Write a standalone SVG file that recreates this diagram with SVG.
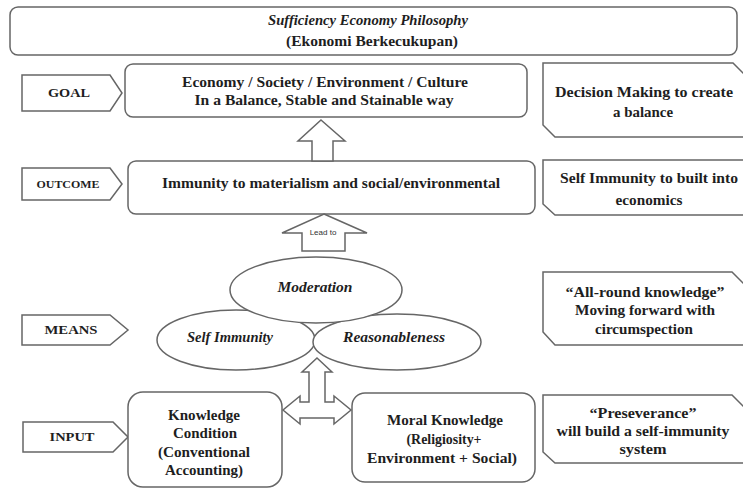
<svg xmlns="http://www.w3.org/2000/svg" width="743" height="488" viewBox="0 0 743 488">
<style>
.s{fill:#fff;stroke:#666;stroke-width:1.5}
.t{font-family:'Liberation Serif','DejaVu Serif','Times New Roman',serif;font-weight:bold;font-size:15px;fill:#1e1e1e;text-anchor:middle}
.i{font-style:italic}
.l{font-size:12.5px}
.m{font-size:11px}
.h{font-size:14.5px}
</style>
<rect width="743" height="488" fill="#fff"/>
<g id="title">
<rect class="s" x="10" y="7" width="727" height="48" rx="8"/>
<text class="t i h" x="368" y="25" textLength="200" lengthAdjust="spacingAndGlyphs">Sufficiency Economy Philosophy</text>
<text class="t h" x="372" y="46" textLength="172" lengthAdjust="spacingAndGlyphs">(Ekonomi  Berkecukupan)</text>
</g>
<g id="label-goal">
<path class="s" d="M22,75 H110 L122,93 L110,111 H22 Z"/>
<text class="t l" x="69" y="97" textLength="42" lengthAdjust="spacingAndGlyphs">GOAL</text>
</g>
<g id="label-outcome">
<path class="s" d="M22,168 H110 L122,184 L110,200 H22 Z"/>
<text class="t m" x="68" y="188" textLength="63" lengthAdjust="spacingAndGlyphs">OUTCOME</text>
</g>
<g id="label-means">
<path class="s" d="M22,315 H110 L128,330 L110,345 H22 Z"/>
<text class="t l" x="71" y="334" textLength="53" lengthAdjust="spacingAndGlyphs">MEANS</text>
</g>
<g id="label-input">
<path class="s" d="M23,422 H113 L128,437 L113,452 H23 Z"/>
<text class="t l" x="72" y="441" textLength="45" lengthAdjust="spacingAndGlyphs">INPUT</text>
</g>
<g id="goal">
<rect class="s" x="125" y="64" width="402" height="53" rx="8"/>
<text class="t" x="325" y="87" textLength="286" lengthAdjust="spacingAndGlyphs">Economy  / Society / Environment  / Culture</text>
<text class="t" x="324" y="105" textLength="259" lengthAdjust="spacingAndGlyphs">In a Balance, Stable and Stainable way</text>
</g>
<g id="outcome">
<rect class="s" x="128" y="161" width="407" height="53" rx="8"/>
<text class="t" x="331" y="188" textLength="338" lengthAdjust="spacingAndGlyphs">Immunity  to materialism  and social/environmental</text>
</g>
<g id="connectors">
<path class="s" d="M321,120 L345,141 H333 V161 H312 V141 H298 Z"/>
<path class="s" d="M324,214 L367,233 H345 V251 H302 V233 H282 Z"/>
<text x="323" y="235" font-family="Liberation Sans, Arial, sans-serif" font-size="8" fill="#333" text-anchor="middle">Lead to</text>
<path class="s" d="M317,358 L332,372 H325 V402 H334 V396 L351,410 L334,424 V418 H300 V424 L283,410 L300,396 V402 H309 V372 H302 Z"/>
</g>
<g id="self-immunity">
<ellipse class="s" cx="236" cy="340" rx="79" ry="30"/>
<text class="t i" x="230" y="342" textLength="86" lengthAdjust="spacingAndGlyphs">Self Immunity</text>
</g>
<g id="reasonableness">
<ellipse class="s" cx="397" cy="342" rx="84" ry="28"/>
<text class="t i" x="394" y="342" textLength="102" lengthAdjust="spacingAndGlyphs">Reasonableness</text>
</g>
<g id="moderation">
<ellipse class="s" cx="316" cy="290" rx="86" ry="33"/>
<text class="t i" x="315" y="292" textLength="75" lengthAdjust="spacingAndGlyphs">Moderation</text>
</g>
<g id="knowledge">
<rect class="s" x="128" y="392" width="154" height="95" rx="15"/>
<text class="t" x="204" y="420" textLength="72" lengthAdjust="spacingAndGlyphs">Knowledge</text>
<text class="t" x="205" y="438" textLength="64" lengthAdjust="spacingAndGlyphs">Condition</text>
<text class="t" x="204" y="457" textLength="92" lengthAdjust="spacingAndGlyphs">(Conventional</text>
<text class="t" x="204" y="475" textLength="78" lengthAdjust="spacingAndGlyphs">Accounting)</text>
</g>
<g id="moral">
<rect class="s" x="352" y="393" width="183" height="89" rx="13"/>
<text class="t" x="445" y="425" textLength="116" lengthAdjust="spacingAndGlyphs">Moral Knowledge</text>
<text class="t" x="444" y="444" textLength="75" lengthAdjust="spacingAndGlyphs">(Religiosity+</text>
<text class="t" x="442" y="463" textLength="150" lengthAdjust="spacingAndGlyphs">Environment  + Social)</text>
</g>
<g id="note-decision">
<path class="s" d="M543,63 H733 L746,76 V137 H555 L543,125 Z"/>
<text class="t" x="644" y="97" textLength="178" lengthAdjust="spacingAndGlyphs">Decision Making to create</text>
<text class="t" x="643" y="117" textLength="60" lengthAdjust="spacingAndGlyphs">a balance</text>
</g>
<g id="note-self-immunity">
<path class="s" d="M543,160 H746 V215 H555 L543,204 Z"/>
<text class="t" x="649" y="183" textLength="178" lengthAdjust="spacingAndGlyphs">Self Immunity  to built  into</text>
<text class="t" x="649" y="205" textLength="67" lengthAdjust="spacingAndGlyphs">economics</text>
</g>
<g id="note-knowledge">
<path class="s" d="M543,272 H732 L746,286 V345 H555 L543,332 Z"/>
<text class="t" x="645" y="297" textLength="159" lengthAdjust="spacingAndGlyphs">“All-round  knowledge”</text>
<text class="t" x="645" y="315" textLength="140" lengthAdjust="spacingAndGlyphs">Moving forward  with</text>
<text class="t" x="644" y="334" textLength="98" lengthAdjust="spacingAndGlyphs">circumspection</text>
</g>
<g id="note-preseverance">
<path class="s" d="M543,395 H732 L746,409 V463 H555 L543,452 Z"/>
<text class="t" x="643" y="418" textLength="107" lengthAdjust="spacingAndGlyphs">“Preseverance”</text>
<text class="t" x="643" y="436" textLength="173" lengthAdjust="spacingAndGlyphs">will  build  a self-immunity</text>
<text class="t" x="643" y="454" textLength="47" lengthAdjust="spacingAndGlyphs">system</text>
</g>
</svg>
